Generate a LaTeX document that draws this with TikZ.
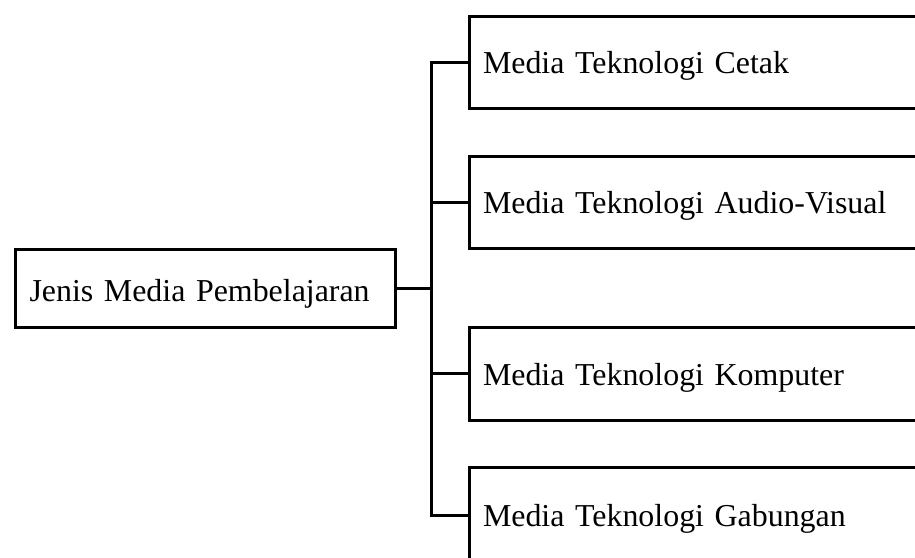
\documentclass[tikz,border=0pt]{standalone}
\usepackage{fontspec}
\setmainfont{Liberation Serif}
\begin{document}
\begin{tikzpicture}[x=1pt,y=-1pt,line width=3pt,
  txt/.style={font=\fontsize{31.9}{38}\selectfont,text depth=0pt},
  leftbox/.style={txt,draw,rectangle,anchor=west,inner sep=0pt,inner xsep=14pt,text width=352pt,align=left,minimum height=78pt,text height=26pt},
  rightbox/.style={txt,draw,rectangle,anchor=west,inner sep=0pt,inner xsep=13.5pt,text width=443pt,align=left,text height=23pt},
  conn/.style={draw,line width=3pt}]
\useasboundingbox (0,0) rectangle (915,557);
\clip (0,0) rectangle (915,557);
\node[leftbox] (root) at (14,288) {Jenis Media Pembelajaran};
\node[rightbox,minimum height=92pt] (b1) at (468,62) {Media Teknologi Cetak};
\node[rightbox,minimum height=92pt] (b2) at (468,202) {Media Teknologi Audio-Visual};
\node[rightbox,minimum height=93pt] (b3) at (468,373.5) {Media Teknologi Komputer};
\node[rightbox,minimum height=96pt] (b4) at (468,515) {Media Teknologi Gabungan};
\coordinate (j) at (431,288);
\draw[conn] (root.east) -- (j);
\foreach \b in {b1,b2,b3,b4} { \draw[conn] (j) |- (\b.west); }
\end{tikzpicture}
\end{document}
